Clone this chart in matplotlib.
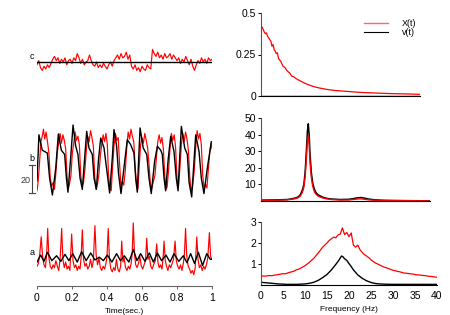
import numpy as np
import matplotlib
matplotlib.use('Agg')
import matplotlib.pyplot as plt
from matplotlib.lines import Line2D

plt.rcParams['font.family'] = ['Liberation Sans', 'DejaVu Sans']

# ---- left column: time traces (units, 20 units = scale bar) ----
tb_black = [0.000, 0.011, 0.030, 0.059, 0.072, 0.088, 0.107, 0.122, 0.139, 0.158, 0.168, 0.177,
            0.192, 0.206, 0.221, 0.234, 0.246, 0.259, 0.272, 0.284, 0.297, 0.316, 0.326, 0.339,
            0.352, 0.364, 0.383, 0.402, 0.415, 0.430, 0.440, 0.455, 0.466, 0.480,
            0.503, 0.516, 0.535, 0.554, 0.564, 0.573, 0.581, 0.589, 0.607, 0.627, 0.640, 0.653,
            0.672, 0.688, 0.707, 0.716, 0.726, 0.735, 0.750, 0.764, 0.783, 0.796, 0.806,
            0.815, 0.825, 0.844, 0.859, 0.869, 0.884, 0.897, 0.907, 0.926, 0.939, 0.954, 0.973, 0.996]
vb_black = [10, 43, 32, 30, 12, 0, 19, 43.6, 32, 29, 12, 2,
            26, 50, 35, 29, 12, 4, 26, 45.5, 33.6, 29, 12, 4,
            26, 40.7, 33.6, 14.5, 1.4, 26, 46.7, 35, 15, 1,
            26, 39.5, 36, 30, 12, 2, 26, 47.9, 33.6, 29, 12, 1,
            24, 34.8, 32, 29, 12, 3, 26, 42, 31, 12, 3,
            26, 49, 33.6, 29, 9, -1.4, 24, 43, 31, 12, 1, 19, 38]

tb_red = [0.000, 0.006, 0.014, 0.022, 0.030, 0.037, 0.044, 0.052, 0.060, 0.068, 0.076, 0.084, 0.092, 0.100,
          0.108, 0.116, 0.124, 0.132, 0.140, 0.148, 0.156, 0.164, 0.172, 0.180, 0.186,
          0.194, 0.202, 0.210, 0.218, 0.226, 0.234, 0.242, 0.250, 0.258, 0.266,
          0.274, 0.282, 0.290, 0.298, 0.306, 0.314, 0.322, 0.330, 0.338, 0.346,
          0.354, 0.362, 0.370, 0.378, 0.386, 0.394, 0.402, 0.408, 0.416, 0.424,
          0.432, 0.440, 0.448, 0.456, 0.464, 0.472, 0.480, 0.488, 0.496,
          0.505, 0.513, 0.521, 0.529, 0.537, 0.545, 0.553, 0.561, 0.569, 0.577,
          0.584, 0.592, 0.600, 0.608, 0.616, 0.624, 0.632, 0.640, 0.648, 0.656, 0.664,
          0.674, 0.682, 0.690, 0.698, 0.706, 0.714, 0.722, 0.730, 0.738, 0.744,
          0.752, 0.760, 0.768, 0.776, 0.784, 0.792, 0.800, 0.808,
          0.817, 0.825, 0.833, 0.841, 0.849, 0.857, 0.865, 0.873, 0.881, 0.889,
          0.899, 0.907, 0.915, 0.923, 0.931, 0.939, 0.947, 0.955, 0.963,
          0.971, 0.979, 0.987, 0.995, 1.000]
vb_red = [3, 9, 22, 38, 42, 47, 40, 45, 38, 30, 12, 6, 9, 4,
          16, 30, 38, 44, 37, 43, 39, 33, 13, 5, 8,
          14, 30, 37, 45, 39, 42, 36, 14, 6, 9,
          18, 32, 42, 38, 46, 41, 35, 13, 4, 8,
          15, 28, 36, 43, 38, 44, 36, 16, 5, 3,
          20, 35, 44, 39, 41, 22, 6, 10, 7,
          18, 34, 45, 40, 47, 42, 38, 20, 7, 4,
          20, 36, 41, 37, 44, 39, 34, 22, 8, 5, 9,
          14, 26, 38, 43, 37, 41, 33, 14, 4, 6,
          18, 33, 44, 39, 43, 34, 12, 5,
          20, 36, 44, 38, 45, 40, 32, 13, 3, 6,
          18, 34, 46, 40, 44, 36, 14, 4, 8,
          5, 18, 30, 37, 33]

ta_black = [0.0, 0.021, 0.04, 0.059, 0.085, 0.112, 0.136, 0.16, 0.182, 0.204, 0.23, 0.255, 0.281,
            0.307, 0.331, 0.356, 0.379, 0.402, 0.428, 0.455, 0.477, 0.499, 0.525, 0.551, 0.571,
            0.592, 0.617, 0.642, 0.665, 0.688, 0.712, 0.737, 0.76, 0.783, 0.81, 0.836, 0.857,
            0.878, 0.9, 0.922, 0.946, 0.97, 0.99, 1.0]
va_black = [0, 5, 0.5, 7, 1, 4.5, 0.5, 5.5, 1, 6, 0, 7.4, 1,
            6.5, 1.5, 3.5, 1, 5, 0, 6, 1, 4.5, 0, 9, 1,
            6, 0.5, 6.5, 0, 6.5, 1, 5, 0, 6, 0.5, 4.5, -0.5,
            6, -1, 7, -2.5, 6, 2, 2]

ta_red = [0.000, 0.008, 0.016, 0.024, 0.032, 0.040, 0.048, 0.055, 0.061, 0.068, 0.076, 0.084,
          0.092, 0.100, 0.108, 0.116, 0.124, 0.132, 0.141, 0.148, 0.156, 0.164, 0.172, 0.180,
          0.188, 0.198, 0.206, 0.214, 0.222, 0.230, 0.238, 0.246, 0.252, 0.259, 0.266, 0.274,
          0.282, 0.290, 0.298, 0.306, 0.314, 0.322, 0.331, 0.338, 0.346, 0.354, 0.362, 0.370,
          0.378, 0.386, 0.394, 0.400, 0.407, 0.414, 0.422, 0.430, 0.438, 0.446, 0.454, 0.462,
          0.470, 0.478, 0.484, 0.491, 0.498, 0.506, 0.514, 0.522, 0.530, 0.538, 0.544, 0.550,
          0.557, 0.564, 0.572, 0.580, 0.588, 0.596, 0.604, 0.612, 0.620, 0.627, 0.634, 0.642,
          0.650, 0.658, 0.666, 0.676, 0.684, 0.691, 0.698, 0.706, 0.714, 0.720, 0.726, 0.733,
          0.740, 0.748, 0.756, 0.764, 0.772, 0.780, 0.789, 0.796, 0.804, 0.812, 0.820, 0.828,
          0.836, 0.842, 0.849, 0.856, 0.864, 0.872, 0.880, 0.888, 0.896, 0.904, 0.913, 0.920,
          0.928, 0.936, 0.944, 0.952, 0.960, 0.968, 0.976, 0.985, 0.992, 1.000]
va_red = [-3, -1, 6, 18, 4, -2, -4, 5, 24, 3, -3, -5,
          -2, -4, 1, -3, -6, 2, 24, 2, -4, 0, -5, -3,
          -6, 20, 1, -4, -2, -6, -3, -5, 3, 23, 2, -3,
          -1, -5, -3, 2, -4, 1, 26, 5, -2, 3, -4, -6,
          -3, -5, -1, 4, 24, 2, -5, -7, -4, -6, 2, -5,
          -7, -3, 15, 0, 3, -4, -6, -3, -5, -1, 6, 28,
          6, -2, -4, -1, 4, -3, -5, -2, 1, 17, 2, 4,
          -3, -5, -2, 1, 13, 0, -4, -2, -5, 2, 15, 1,
          -3, -6, -2, -4, -1, 2, 15, 1, -3, -5, -2, -6,
          -1, 5, 24, 4, -3, -5, -8, -6, -9, -4, 18, 2,
          -4, -2, -6, -3, -5, -2, 3, 21, 4, 2]

tc_red = np.linspace(0, 1, 101)
vc_red = [-2, 1, -4, -6, -3, -5, -2, -4, -1, 2,
          4, 1, 3, -1, 2, 0, 3, -2, 1, 2, -1, 3, 1,
          6, 3,
          -1, 2, -2, 0, 1, 5, 1, -2, -3, 0, -4,
          -2, -4, -1, -3, -5, -2, 0, -3, 1,
          3, 5, 2, 6, 3, 4, 7, 2, 5,
          -3, -5, -2, -6, -4, -7, -3, -5, -6, -2, -4, -5,
          9,
          6, 4, 7, 3, 5, 2, 6, 3, 4, 6, 2, 5, 3,
          1, 3, -1, 2, 0, 4, 1, -2, 2, -3, -6, -2, 1, -1, 3, 0, 2, -1, 3, 1, 2]
tc_black = [0, 1]
vc_black = [0, 0]

# ---- right column: spectra ----
f_top = [0, 0.25, 0.5, 0.75, 1.0, 1.25, 1.5, 1.75, 2.0, 2.25, 2.5, 2.75, 3.0, 3.25, 3.5, 3.75,
         4.0, 4.5, 5.0, 5.5, 6.0, 6.5, 7.0, 7.5, 8.0, 9, 10, 11, 12, 13, 14, 15, 16, 17, 18,
         19, 20, 22, 24, 26, 28, 30, 32, 34, 36.3]
x_top = [0.42, 0.415, 0.40, 0.385, 0.375, 0.38, 0.36, 0.35, 0.34, 0.33, 0.30, 0.31, 0.28, 0.27,
         0.255, 0.26, 0.225, 0.21, 0.18, 0.17, 0.15, 0.14, 0.12, 0.115, 0.105, 0.09, 0.077,
         0.066, 0.057, 0.05, 0.045, 0.04, 0.036, 0.033, 0.031, 0.029, 0.027, 0.023, 0.02,
         0.018, 0.016, 0.014, 0.013, 0.012, 0.01]
f_top_v = [0, 36.3]
v_top = [0, 0]

f_mid = [0, 2, 4, 6, 7, 8, 8.5, 9, 9.5, 9.8, 10.1, 10.4, 10.6, 10.8, 11.0, 11.2, 11.5, 11.8,
         12.2, 12.6, 13, 14, 15, 16, 18, 20, 21, 22, 22.8, 23.5, 24.5, 26, 28, 30, 33, 36, 38.6]
v_mid = [0.5, 0.6, 0.7, 0.9, 1.3, 1.9, 2.5, 3.8, 7, 10, 18, 32, 42, 46.5, 40, 28, 17, 11,
         7, 5, 3.8, 2.4, 1.6, 1.2, 0.9, 1.0, 1.4, 1.9, 2.1, 1.8, 1.2, 0.7, 0.4, 0.3, 0.2, 0.15, 0.1]
x_mid = [0.3, 0.4, 0.5, 0.7, 1.0, 1.5, 2.0, 3.0, 5.5, 8.5, 15, 27, 36, 39.5, 34, 23, 14, 9,
         5.5, 4, 3, 1.9, 1.3, 0.9, 0.6, 0.6, 0.9, 1.2, 1.3, 1.1, 0.7, 0.45, 0.3, 0.25, 0.2, 0.15, 0.1]

f_bot = np.arange(0, 40.5, 0.5)
x_bot = [0.42, 0.43, 0.42, 0.44, 0.45, 0.44, 0.47, 0.48, 0.50, 0.52, 0.54, 0.53, 0.57, 0.60,
         0.63, 0.66, 0.72, 0.75, 0.80, 0.86, 0.92, 1.00, 1.08, 1.18, 1.27, 1.40, 1.52, 1.66,
         1.80, 1.90, 2.00, 2.12, 2.20, 2.28, 2.25, 2.38, 2.42, 2.72, 2.40, 2.50, 2.30, 2.48,
         1.90, 1.80, 1.90, 1.68, 1.55, 1.45, 1.38, 1.30, 1.20, 1.12, 1.05, 1.00, 0.95, 0.90,
         0.85, 0.82, 0.78, 0.74, 0.70, 0.68, 0.65, 0.63, 0.60, 0.57, 0.56, 0.55, 0.53, 0.52,
         0.50, 0.48, 0.48, 0.46, 0.45, 0.44, 0.42, 0.41, 0.40, 0.38, 0.37]
f_bot_v = [0, 1, 2, 3, 4, 5, 6, 8, 10, 11, 12, 13, 14, 15, 16, 16.5, 17, 17.5, 18, 18.3, 18.6,
           19.0, 19.5, 20, 20.5, 21, 21.5, 22, 23, 24, 25, 26, 27, 28, 30, 34, 40]
v_bot = [0.13, 0.11, 0.09, 0.07, 0.05, 0.04, 0.03, 0.03, 0.05, 0.08, 0.13, 0.22, 0.35, 0.5,
         0.72, 0.85, 0.98, 1.12, 1.28, 1.38, 1.35, 1.25, 1.17, 1.02, 0.88, 0.72, 0.6, 0.48,
         0.32, 0.2, 0.12, 0.07, 0.05, 0.04, 0.03, 0.03, 0.03]

RED = '#ff0000'
W, H = 450, 315
fig = plt.figure(figsize=(4.5, 3.15), dpi=100)

# left traces, 1 unit = 1.4 px
axL = fig.add_axes([37/W, 29/H, 175/W, 246/H])
axL.set_xlim(0, 1)
axL.set_ylim(0, 246/1.4)
c_base, b_base, a_base = 160, 65, 17.1
axL.plot(tc_red, np.array(vc_red) + c_base, color=RED, lw=0.85)
axL.plot(tc_black, np.array(vc_black) + c_base, color='k', lw=1.0)
axL.plot(tb_red, np.array(vb_red) + b_base, color=RED, lw=0.85)
axL.plot(tb_black, np.array(vb_black) + b_base, color='k', lw=1.0)
axL.plot(ta_red, np.array(va_red) + a_base, color=RED, lw=0.85)
axL.plot(ta_black, np.array(va_black) + a_base, color='k', lw=1.0)
for s in ['left', 'top', 'right']:
    axL.spines[s].set_visible(False)
axL.spines['bottom'].set_color('#666666')
axL.set_yticks([])
axL.set_xticks([0, 0.2, 0.4, 0.6, 0.8, 1])
axL.set_xticklabels(['0', '0.2', '0.4', '0.6', '0.8', '1'])
axL.tick_params(axis='x', length=2.5, width=0.7, color='#666666', labelsize=7.5, pad=2.5)
axL.set_xlabel('Time(sec.)', fontsize=6, labelpad=3.5)

# scale bar for trace b
axL.plot([-0.03, -0.03], [b_base + 1.5, b_base + 21.5], color='#444444', lw=0.8, clip_on=False)
axL.plot([-0.044, -0.014], [b_base + 1.5, b_base + 1.5], color='#444444', lw=0.8, clip_on=False)
axL.plot([-0.044, -0.014], [b_base + 21.5, b_base + 21.5], color='#444444', lw=0.8, clip_on=False)
axL.text(-0.063, b_base + 10.7, '20', fontsize=6.5, ha='center', va='center', color='#333333')
for lbl, yy in [('c', 163.6), ('b', 91.4), ('a', 23.6)]:
    axL.text(-0.03, yy, lbl, fontsize=6.5, ha='center', va='center')


def style_right(ax):
    ax.spines['top'].set_visible(False)
    ax.spines['right'].set_visible(False)
    ax.spines['left'].set_color('#555555')
    ax.spines['bottom'].set_color('k')
    ax.tick_params(axis='y', length=2, width=0.7, labelsize=7.5, pad=1.5)
    ax.tick_params(axis='x', length=0, labelsize=7.5, pad=4.5)


# top right
axT = fig.add_axes([261/W, (H-96)/H, 159/W, 83/H])
axT.plot(f_top, x_top, color=RED, lw=0.9)
axT.plot(f_top_v, v_top, color='k', lw=1.0)
axT.set_xlim(0, 36.3)
axT.set_ylim(0, 0.5)
axT.set_yticks([0, 0.25, 0.5])
axT.set_yticklabels(['0', '0.25', '0.5'])
axT.set_xticks([])
style_right(axT)
handles = [Line2D([], [], color=RED, lw=1.0, alpha=0.6), Line2D([], [], color='k', lw=0.8)]
axT.legend(handles, ['X(t)', 'v(t)'], loc='upper left', bbox_to_anchor=(0.65, 0.93),
           frameon=False, fontsize=6.5, handlelength=2.6, handletextpad=1.6,
           labelspacing=0.05, borderpad=0, borderaxespad=0)

# middle right
axM = fig.add_axes([261/W, (H-201)/H, 169/W, 83/H])
axM.plot(f_mid, v_mid, color='k', lw=1.1)
axM.plot(f_mid, x_mid, color=RED, lw=1.0)
axM.set_xlim(0, 38.6)
axM.set_ylim(0, 50)
axM.set_yticks([10, 20, 30, 40, 50])
axM.set_xticks([])
style_right(axM)

# bottom right
axB = fig.add_axes([261/W, (H-285)/H, 176/W, 63/H])
axB.plot(f_bot, x_bot, color=RED, lw=0.9)
axB.plot(f_bot_v, v_bot, color='k', lw=1.0)
axB.set_xlim(0, 40)
axB.set_ylim(0, 3)
axB.set_yticks([1, 2, 3])
axB.set_xticks(range(0, 41, 5))
style_right(axB)
axB.set_xlabel('Frequency (Hz)', fontsize=6, labelpad=3.5)

fig.savefig('out.png', dpi=100)
